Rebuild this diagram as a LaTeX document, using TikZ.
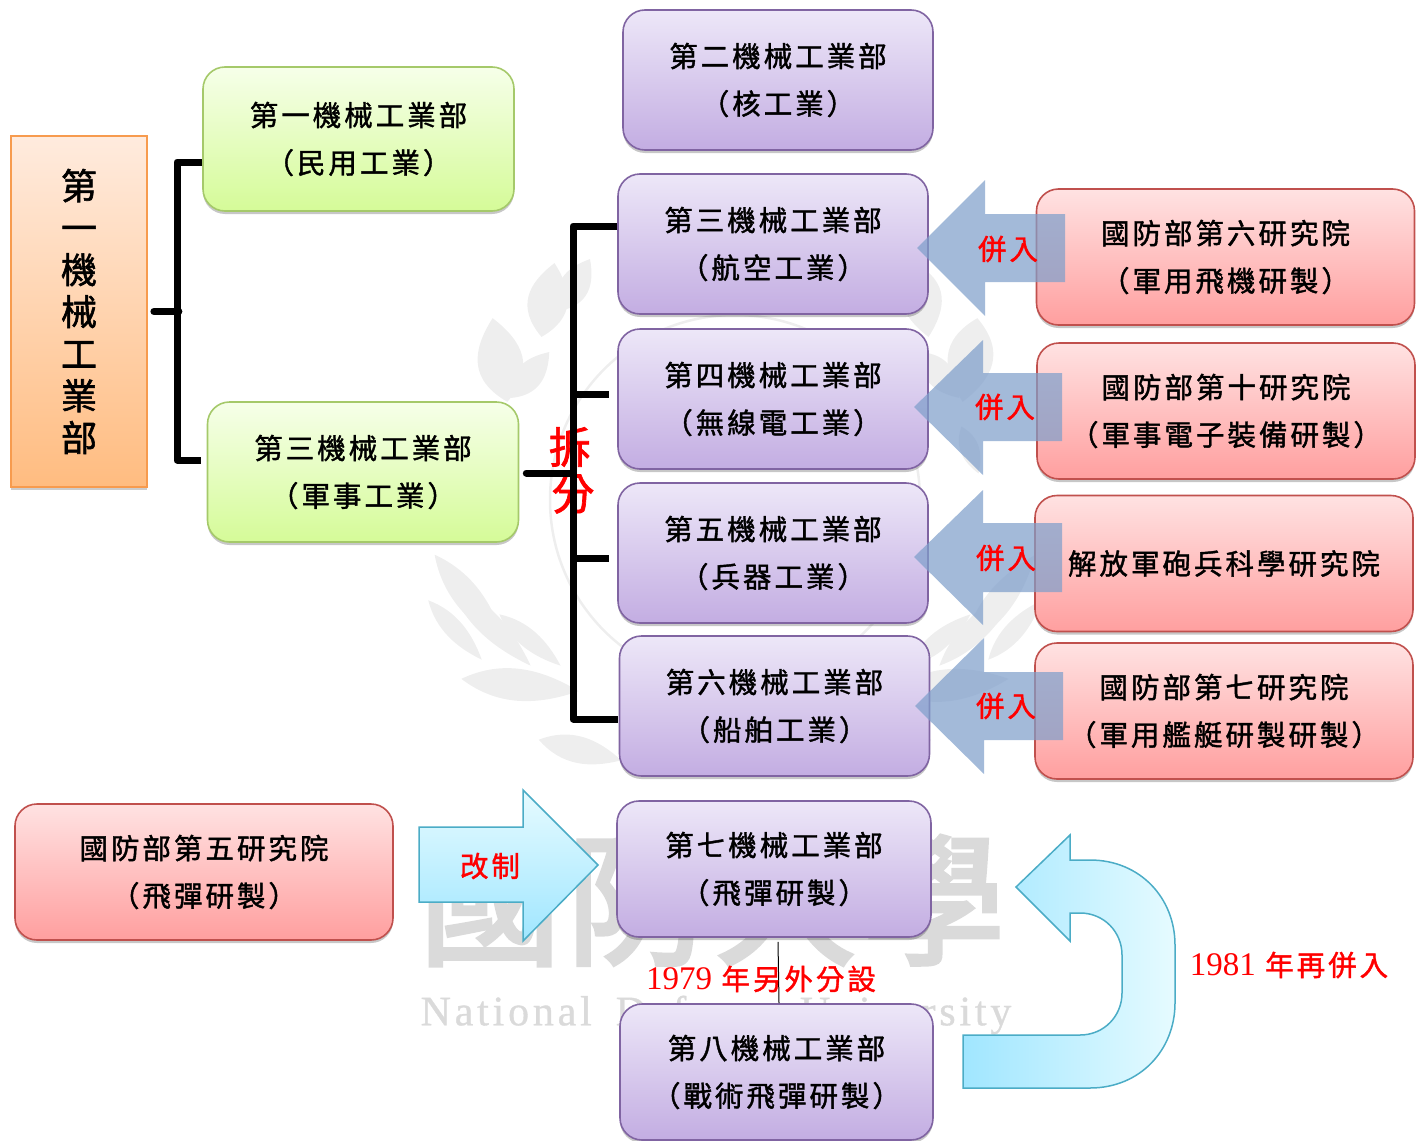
\documentclass[tikz,border=0pt]{standalone}
\usepackage{fontspec}
\usetikzlibrary{shadows,calc}
\newfontfamily\cjk[LetterSpace=10.5,FakeBold=1.4]{Noto Sans CJK TC}
\newfontfamily\cjkroot[FakeBold=1.6]{Noto Sans CJK TC}
\newfontfamily\cjkwm[FakeBold=3]{Noto Sans CJK TC}
\newfontfamily\wmlatin[LetterSpace=9,FakeBold=0.8]{Liberation Serif}
\newfontfamily\digits{Liberation Serif}
\definecolor{pline}{HTML}{8064A2}
\definecolor{rline}{HTML}{C0504D}
\definecolor{gline}{HTML}{A5C96A}
\definecolor{oline}{HTML}{F79B4E}
\definecolor{cline}{HTML}{4BACC6}
\definecolor{wm}{HTML}{DADADA}
\definecolor{leaf}{HTML}{EEEEEE}
\definecolor{pt}{HTML}{EDE7F8}
\definecolor{pb}{HTML}{C3ADE2}
\definecolor{rt}{HTML}{FFE2E2}
\definecolor{rb}{HTML}{FF9F9F}
\definecolor{gt}{HTML}{F6FFE9}
\definecolor{gb}{HTML}{D5FB98}
\definecolor{ot}{HTML}{FFEBDE}
\definecolor{ob}{HTML}{FFBC80}
\definecolor{blockblue}{HTML}{7F9FCB}
\definecolor{cyanlight}{HTML}{E6FBFF}
\definecolor{cyandark}{HTML}{A0E6FF}
\tikzset{
 x=1pt,y=-1pt,
 txt/.style={font=\cjk\fontsize{28.5}{47.5}\selectfont,align=center,text=black,inner sep=0pt},
 rtxt/.style={font=\cjk\fontsize{28.5}{30}\selectfont,align=center,text=red,inner sep=0pt},
 boxbase/.style={txt,rounded corners=22pt,line width=1.6pt,minimum height=140pt,
   drop shadow={shadow xshift=0pt,shadow yshift=-3pt,opacity=.22,fill=black}},
 pbox/.style={boxbase,draw=pline,top color=pt,bottom color=pb,minimum width=310pt},
 rbox/.style={boxbase,draw=rline,top color=rt,bottom color=rb,minimum width=378pt,minimum height=136pt},
 gbox/.style={boxbase,draw=gline,top color=gt,bottom color=gb,minimum width=311pt},
 obox/.style={draw=oline,line width=1.8pt,top color=ot,bottom color=ob,align=center,inner sep=0pt,
   font=\cjkroot\fontsize{36}{42}\selectfont,
   minimum width=136pt,minimum height=351pt,drop shadow={shadow xshift=0pt,shadow yshift=-3pt,opacity=.2,fill=black}},
 bar/.style={line width=7pt,draw=black,line join=round},
 merge/.style={fill=blockblue,fill opacity=.72},
 cyan/.style={draw=cline,line width=1.5pt},
}
\begin{document}
\begin{tikzpicture}
\useasboundingbox (0,0) rectangle (1423,1140);
% watermark: wreath (leaves mirrored about x=735)
\draw[leaf,line width=2.5pt] (735,500) circle (185);
\foreach \cx/\cy/\ang/\len/\wid in {
  500/360/100/85/34, 548/300/80/75/30, 530/375/50/60/20, 575/285/60/60/22,
  500/450/70/50/14, 470/600/-52/115/20, 490/625/-45/115/18, 455/630/-48/80/14,
  520/685/-6/118/24, 580/750/-14/85/20, 530/640/-40/80/14}{
  \fill[leaf,shift={(\cx,\cy)},rotate=\ang] (-\len/2,0) .. controls (-\len/6,\wid) and (\len/6,\wid/1.3) .. (\len/2,0) .. controls (\len/6,-\wid/1.3) and (-\len/6,-\wid) .. (-\len/2,0);
  \fill[leaf,shift={(1470-\cx,\cy)},rotate=-\ang] (-\len/2,0) .. controls (-\len/6,\wid) and (\len/6,\wid/1.3) .. (\len/2,0) .. controls (\len/6,-\wid/1.3) and (-\len/6,-\wid) .. (-\len/2,0);
}
\node[font=\cjkwm\fontsize{142}{142}\selectfont,text=wm,inner sep=0pt] (wmcn) at (712,900) {國\hspace{6pt}防\hspace{6pt}大\hspace{6pt}學};
\node[font=\wmlatin\fontsize{42}{42}\selectfont,text=wm,inner sep=0pt] (wmen) at (716,1015) {National\hspace{24pt}Defense\hspace{24pt}University};
% red split text (under the bar)
\node[font=\cjkroot\fontsize{43}{43}\selectfont,text=red,inner sep=0pt] (chai) at (570,447) {拆};
\node[font=\cjkroot\fontsize{43}{43}\selectfont,text=red,inner sep=0pt] (fen) at (573,494) {分};
% boxes
\node[obox] (root) at (79,311.5) {第\\一\\機\\械\\工\\業\\部};
\node[gbox,minimum height=144pt] (g1) at (358.5,139) {第一機械工業部\\（民用工業）};
\node[gbox] (g3) at (363,472) {第三機械工業部\\（軍事工業）};
\node[pbox] (p2) at (778,80) {第二機械工業部\\（核工業）};
\node[pbox] (p3) at (773,244) {第三機械工業部\\（航空工業）};
\node[pbox] (p4) at (773,399) {第四機械工業部\\（無線電工業）};
\node[pbox] (p5) at (773,553) {第五機械工業部\\（兵器工業）};
\node[pbox] (p6) at (774.5,706) {第六機械工業部\\（船舶工業）};
\node[pbox,minimum width=314pt,minimum height=136pt] (p7) at (774,869) {第七機械工業部\\（飛彈研製）};
\node[pbox,minimum width=313pt,minimum height=136pt] (p8) at (776.5,1072) {第八機械工業部\\（戰術飛彈研製）};
\node[rbox] (r6) at (1225.5,257) {國防部第六研究院\\（軍用飛機研製）};
\node[rbox] (r10) at (1226,411) {國防部第十研究院\\（軍事電子裝備研製）};
\node[rbox] (rp) at (1224,563.5) {解放軍砲兵科學研究院};
\node[rbox] (r7) at (1224,711) {國防部第七研究院\\（軍用艦艇研製研製）};
\node[rbox] (r5) at (204,872) {國防部第五研究院\\（飛彈研製）};
% connectors
\draw[bar,line cap=round] (root.east)++(6,0) coordinate (ra) -- ($(ra)+(25,0)$);
\draw[bar] ($(g1.west)+(0,23)$) -| (177,311.5) |- ($(g3.west)+(-6,-12)$);
\draw[bar,line cap=round] ($(g3.east)+(7,1)$) -- (573,473);
\draw[bar] ($(p3.west)+(0,-18)$) -| (573,400) |- ($(p6.west)+(-1,13)$);
\draw[bar] (573,394) -- ($(p4.west)+(-8,-5)$);
\draw[bar] (573,558) -- ($(p5.west)+(-8,5)$);
\draw[black,line width=1pt] ($(p7.south)+(4,4)$) -- ($(p8.north)+(2.5,0)$);
% merge arrows
\fill[merge] (917,248) -- (985,180) -- (985,214) -- (1065,214) -- (1065,282) -- (985,282) -- (985,316) -- cycle;
\fill[merge] (914,407) -- (983,340) -- (983,373) -- (1062,373) -- (1062,441) -- (983,441) -- (983,475) -- cycle;
\fill[merge] (914,557) -- (983,490) -- (983,523) -- (1062,523) -- (1062,592) -- (983,592) -- (983,625) -- cycle;
\fill[merge] (915,706) -- (984,638) -- (984,672) -- (1063,672) -- (1063,740) -- (984,740) -- (984,774) -- cycle;
\node[rtxt] (m1) at (1008,249) {併入};
\node[rtxt] (m2) at (1005,407) {併入};
\node[rtxt] (m3) at (1006,558) {併入};
\node[rtxt] (m4) at (1006,706) {併入};
% cyan arrows
\draw[cyan,top color=cyanlight,bottom color=cyandark] (419,827) -- (523,827) -- (523,790) -- (598,865) -- (523,941) -- (523,902) -- (419,902) -- cycle;
\node[rtxt] (gz) at (490,866) {改制};
\draw[cyan,left color=cyandark,right color=cyanlight]
  (963,1088) -- (1090,1088) .. controls (1140,1088) and (1175,1050) .. (1175,1003)
  -- (1175,945) .. controls (1175,898) and (1140,860) .. (1090,860) -- (1070,860) -- (1070,835)
  -- (1016,887) -- (1070,941) -- (1070,913) -- (1080,913)
  .. controls (1104,913) and (1122,932) .. (1122,955) -- (1122,993)
  .. controls (1122,1016) and (1104,1035) .. (1080,1035) -- (963,1035) -- cycle;
\node[rtxt] (y79) at (761,979) {{\digits\fontsize{33}{33}\selectfont 1979} 年另外分設};
\node[rtxt] (y81) at (1289,965) {{\digits\fontsize{33}{33}\selectfont 1981} 年再併入};
\end{tikzpicture}
\end{document}
